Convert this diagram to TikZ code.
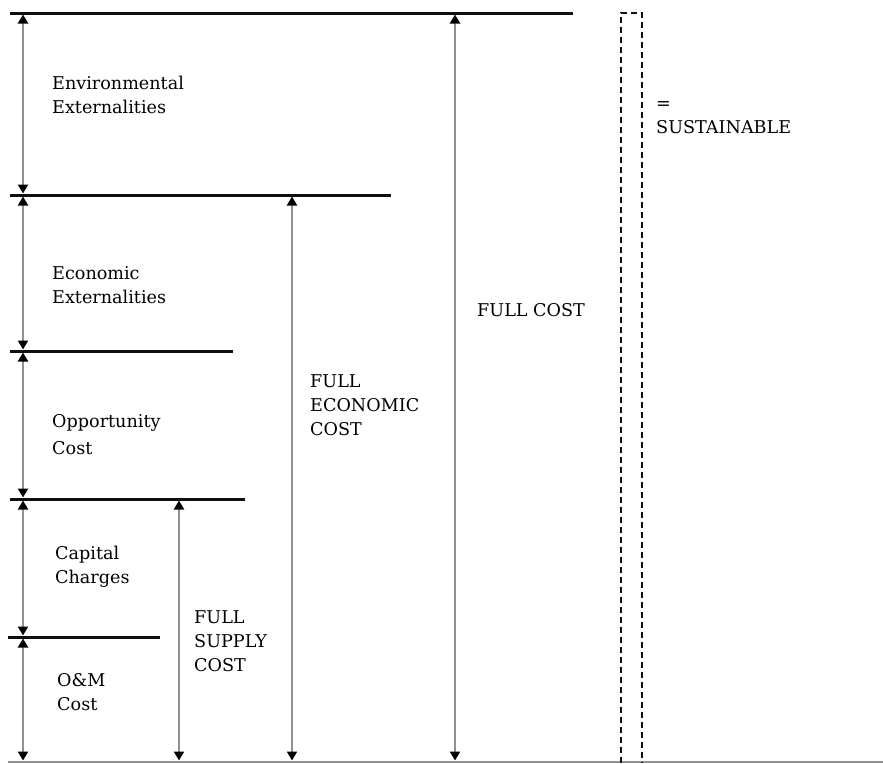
\documentclass[tikz,border=0pt]{standalone}
\usepackage{fontspec}
\setmainfont{DejaVu Serif}
\usepackage{tikz}
\usetikzlibrary{arrows.meta}
\definecolor{mygray}{RGB}{145,145,145}
\definecolor{mydark}{RGB}{15,15,15}
\tikzset{
  tier/.style={line width=3pt, color=mydark},
  groundline/.style={line width=1.6pt, color=mygray},
  costspan/.style={{Triangle[length=9pt,width=10pt,color=black]}-{Triangle[length=9pt,width=10pt,color=black]},
    line width=2pt, color=mygray, shorten >=1.5pt, shorten <=1.5pt},
  txt/.style={anchor=west, align=left, inner sep=0pt, font=\fontsize{17.6}{24}\selectfont},
  dashbox/.style={dash pattern=on 6pt off 4pt, line width=2pt, color=mydark}
}

\begin{document}
\begin{tikzpicture}[x=1pt, y=-1pt]
  \useasboundingbox (0,0) rectangle (883,763);

  % Cost levels
  \coordinate (l0a) at (10,13);  \coordinate (l0b) at (573,13);
  \coordinate (l1a) at (10,195); \coordinate (l1b) at (391,195);
  \coordinate (l2a) at (10,351); \coordinate (l2b) at (233,351);
  \coordinate (l3a) at (10,499); \coordinate (l3b) at (245,499);
  \coordinate (l4a) at (8,637);  \coordinate (l4b) at (160,637);
  \coordinate (l5a) at (8,762);  \coordinate (l5b) at (883,762);
  \draw[tier] (l0a) -- (l0b);
  \draw[tier] (l1a) -- (l1b);
  \draw[tier] (l2a) -- (l2b);
  \draw[tier] (l3a) -- (l3b);
  \draw[tier] (l4a) -- (l4b);
  \draw[groundline] (l5a) -- (l5b);

  % Component spans
  \coordinate (a0) at (23,13);
  \coordinate (a1) at (23,195);
  \coordinate (a2) at (23,351);
  \coordinate (a3) at (23,499);
  \coordinate (a4) at (23,637);
  \coordinate (a5) at (23,762);
  \draw[costspan] (a0) -- (a1);
  \draw[costspan] (a1) -- (a2);
  \draw[costspan] (a2) -- (a3);
  \draw[costspan] (a3) -- (a4);
  \draw[costspan] (a4) -- (a5);

  % Total spans
  \coordinate (s0) at (179,499); \coordinate (s1) at (179,762);
  \coordinate (e0) at (292,195); \coordinate (e1) at (292,762);
  \coordinate (f0) at (455,13);  \coordinate (f1) at (455,762);
  \draw[costspan] (s0) -- (s1);
  \draw[costspan] (e0) -- (e1);
  \draw[costspan] (f0) -- (f1);

  % Sustainable box
  \draw[dashbox] (621,763) -- (621,13) -- (642,13) -- (642,763);

  % Labels
  \node[txt] (envtext) at (52,95) {Environmental\\Externalities};
  \node[txt] (econtext) at (52,285) {Economic\\Externalities};
  \node[txt] (opptext) at (52,435) {Opportunity\\[3pt]Cost};
  \node[txt] (captext) at (55,567) {Capital\\Charges};
  \node[txt] (omtext) at (57,692) {O\&M\\Cost};
  \node[txt] (supplytext) at (194,641) {FULL\\SUPPLY\\COST};
  \node[txt] (economictext) at (310,405) {FULL\\ECONOMIC\\COST};
  \node[txt] (fullcosttext) at (477,310) {FULL COST};
  \node[txt] (sustext) at (656,118) {=\\SUSTAINABLE};
\end{tikzpicture}
\end{document}
